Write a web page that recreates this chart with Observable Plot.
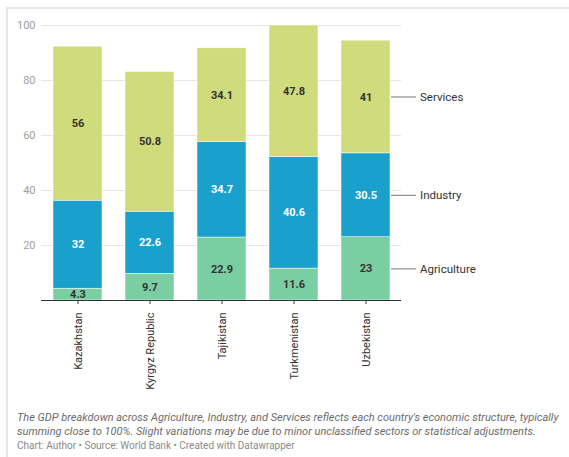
<!DOCTYPE html>
<html>
<head>
<meta charset="utf-8">
<script src="https://cdn.jsdelivr.net/npm/d3@7"></script>
<script src="https://cdn.jsdelivr.net/npm/@observablehq/plot@0.6"></script>
<style>
  html, body { margin: 0; padding: 0; background: #fff; width: 569px; height: 457px; overflow: hidden; }
  body { position: relative; font-family: Roboto, sans-serif; }
  #frame { position: absolute; left: 6px; top: 7px; width: 600px; height: 500px; border-left: 2px solid #e6e6e6; border-top: 2px solid #e6e6e6; box-sizing: border-box; }
  #chart { position: absolute; left: 0; top: 0; }
  .note { position: absolute; left: 17px; font-size: 11px; font-style: italic; color: #6b6b6b; line-height: 14px; width: 552px; }
  .src { position: absolute; left: 17px; top: 440px; font-size: 10px; color: #8a8a8a; }
</style>
</head>
<body>
<div id="frame"></div>
<div id="chart"></div>
<div class="note" style="top:411px">The GDP breakdown across Agriculture, Industry, and Services reflects each country's economic structure, typically summing close to 100%. Slight variations may be due to minor unclassified sectors or statistical adjustments.</div>
<div class="src">Chart: Author • Source: World Bank • Created with Datawrapper</div>
<script>
const countries = ["Kazakhstan", "Kyrgyz Republic", "Tajikistan", "Turkmenistan", "Uzbekistan"];
const sectors = ["Agriculture", "Industry", "Services"];
const agriculture = [4.3, 9.7, 22.9, 11.6, 23];
const industry = [32, 22.6, 34.7, 40.6, 30.5];
const services = [56, 50.8, 34.1, 47.8, 41];
const sectorColors = ["#7acfa2", "#19a0cc", "#d0dc7b"];
const yTicks = [20, 40, 60, 80, 100];

const series = {Agriculture: agriculture, Industry: industry, Services: services};
const data = countries.flatMap((c, i) => sectors.map(s => ({country: c, sector: s, value: series[s][i]})));
const last = data.filter(d => d.country === countries[countries.length - 1]);

const chart = Plot.plot({
  width: 569,
  height: 400,
  marginLeft: 41,
  marginRight: 168,
  marginTop: 25,
  marginBottom: 100,
  style: {fontFamily: "Roboto, sans-serif", fontSize: "11px", background: "transparent", overflow: "visible"},
  x: {domain: countries, paddingInner: 0.32, paddingOuter: 0.16, label: null},
  y: {domain: [0, 100], label: null},
  color: {domain: sectors, range: sectorColors},
  marks: [
    Plot.gridY({ticks: yTicks, stroke: "#e6e6e6", strokeOpacity: 1}),
    Plot.axisY({ticks: yTicks, tickSize: 0, tickPadding: 6, fill: "#9e9e9e", label: null, fontSize: 11}),
    Plot.barY(data, {x: "country", y: "value", fill: "sector", stroke: "white", strokeWidth: 0.5}),
    Plot.text(data, Plot.stackY({x: "country", y: "value", z: "sector",
      text: d => d.sector === "Industry" ? "" : String(d.value), fill: "#333", fontWeight: "bold", fontSize: 11})),
    Plot.text(data, Plot.stackY({x: "country", y: "value", z: "sector",
      text: d => d.sector === "Industry" ? String(d.value) : "", fill: "white", fontWeight: "bold", fontSize: 11})),
    Plot.ruleY([0], {stroke: "#333", strokeWidth: 1}),
    Plot.axisX({tickRotate: -90, tickSize: 4, tickPadding: 8, fill: "#333", stroke: "#333", label: null, fontSize: 11}),
    Plot.tickY(last, Plot.stackY({x: "country", y: "value", z: "sector", dx: 49, insetLeft: 1, insetRight: 23, stroke: "#777", strokeWidth: 1})),
    Plot.text(last, Plot.stackY({x: "country", y: "value", z: "sector", text: "sector", textAnchor: "start", dx: 54, fill: "#333", fontSize: 11.5}))
  ]
});
document.getElementById("chart").appendChild(chart);
</script>
</body>
</html>
